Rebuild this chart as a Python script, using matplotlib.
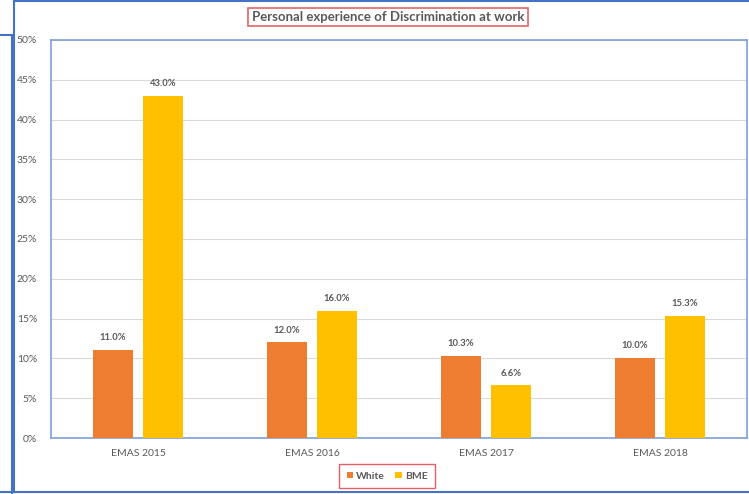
import matplotlib.pyplot as plt
import numpy as np
from matplotlib.lines import Line2D
from matplotlib.ticker import FuncFormatter

plt.rcParams['font.family'] = ['Lato', 'DejaVu Sans']

# Survey results
years = ['EMAS 2015', 'EMAS 2016', 'EMAS 2017', 'EMAS 2018']
white = [11.0, 12.0, 10.3, 10.0]
bme = [43.0, 16.0, 6.6, 15.3]

W, H = 749, 494
fig = plt.figure(figsize=(W / 100, H / 100), dpi=100)

# axes placed in pixel coordinates
left, right, top, bottom = 51, 747, 40, 438
ax = fig.add_axes([left / W, 1 - bottom / H, (right - left) / W, (bottom - top) / H])

x = np.arange(len(years))
bw = 0.225
off = 0.144
b1 = ax.bar(x - off, white, bw, color='#ED7D31', zorder=3, label='White')
b2 = ax.bar(x + off, bme, bw, color='#FFC000', zorder=3, label='BME')

for bars, vals in ((b1, white), (b2, bme)):
    for rect, v in zip(bars, vals):
        ax.text(rect.get_x() + rect.get_width() / 2, v + 1.0, f'{v:.1f}%',
                ha='center', va='bottom', fontsize=6.8, fontweight='bold', color='#595959')

ax.set_xlim(-0.5, 3.5)
ax.set_ylim(0, 50)
ax.set_yticks(np.arange(0, 51, 5))
ax.yaxis.set_major_formatter(FuncFormatter(lambda v, p: f'{v:.0f}%'))
ax.set_xticks(x)
ax.set_xticklabels(years)
ax.tick_params(axis='both', length=0, labelsize=7.5, labelcolor='#595959')
ax.tick_params(axis='y', pad=10)
ax.tick_params(axis='x', pad=8)
ax.grid(axis='y', color='#D9D9D9', linewidth=0.8, zorder=0)
for s in ax.spines.values():
    s.set_color('#7F9FD8')
    s.set_linewidth(1.2)

# title box
fig.text(388 / W, 1 - 17 / H, 'Personal experience of Discrimination at work',
         ha='center', va='center', fontsize=9.5, fontweight='bold', color='#595959',
         bbox=dict(boxstyle='square,pad=0.25', fc='white', ec='#E06666', lw=1.2))

# legend
leg = fig.legend(handles=[b1, b2], loc='center', bbox_to_anchor=(387 / W, 1 - 476 / H),
                 ncol=2, fontsize=7.5, frameon=True, handlelength=0.6, handleheight=0.6,
                 handletextpad=0.3, columnspacing=1.0, borderpad=0.45)
leg.get_frame().set_edgecolor('#D9393E')
leg.get_frame().set_linewidth(1.0)
leg.get_frame().set_boxstyle('square')
for t in leg.get_texts():
    t.set_color('#595959')
    t.set_fontweight('bold')

# outer panel lines
blue = '#4472C4'
def fline(xs, ys, lw=1.5):
    fig.add_artist(Line2D([v / W for v in xs], [1 - v / H for v in ys],
                          color=blue, lw=lw, transform=fig.transFigure))

fline([14, 14], [0, 492])
fline([14, 749], [1.5, 1.5])
fline([14, 749], [492, 492])
fline([0, 12], [35, 35])
fline([12, 12], [35, 494])
fline([0, 12], [492, 492])

fig.savefig('out.png', dpi=100)
